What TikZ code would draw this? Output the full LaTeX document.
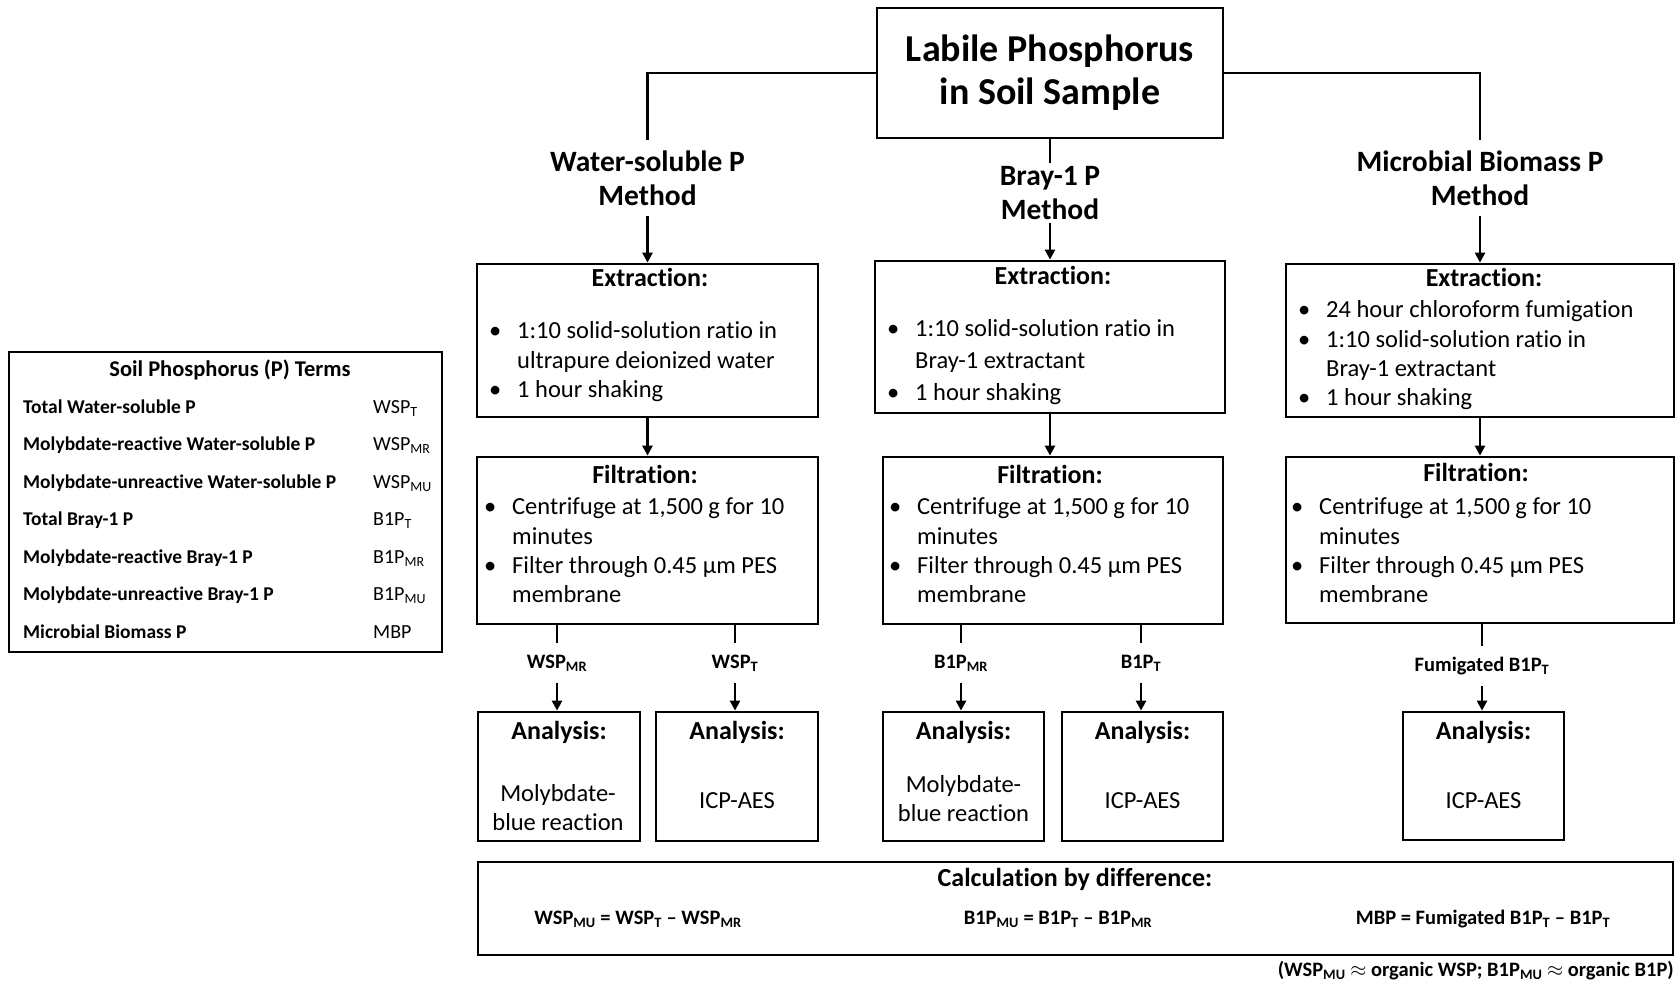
\documentclass[tikz,border=0pt]{standalone}
\usepackage{fontspec}
\setmainfont{Carlito}[Ligatures=NoCommon]
\usepackage{tikz}
\usetikzlibrary{arrows.meta,positioning}

\newcommand{\itm}[1]{\strut\makebox[28pt][l]{\textbullet}#1}
\newcommand{\cnt}[1]{\strut\hspace*{28pt}#1}

\begin{document}
\begin{tikzpicture}[x=1pt, y=-1pt,
  box/.style={draw, line width=2.8pt, inner sep=0pt},
  head/.style={font=\bfseries\fontsize{26}{30}\selectfont, inner sep=0pt, text height=18pt, text depth=5pt},
  body/.style={font=\fontsize{24.5}{29.3}\selectfont, align=left, anchor=north west, inner sep=0pt},
  res/.style={font=\fontsize{24.5}{29}\selectfont, align=center, inner sep=0pt},
  meth/.style={font=\bfseries\fontsize{29.5}{34}\selectfont, align=center, inner sep=0pt},
  flow/.style={font=\bfseries\fontsize{20.5}{24}\selectfont, inner sep=0pt, minimum height=40pt},
  eqn/.style={font=\bfseries\fontsize{20.5}{24}\selectfont, inner sep=0pt, text height=14pt, text depth=4pt},
  term/.style={font=\bfseries\fontsize{19.5}{22}\selectfont, anchor=west, inner sep=0pt, text height=14pt, text depth=4pt},
  abbr/.style={font=\fontsize{20}{22}\selectfont, anchor=west, inner sep=0pt, text height=14pt, text depth=4pt},
  link/.style={line width=2.8pt},
  arr/.style={line width=2.8pt, -{Triangle[length=10pt, width=10pt]}}]
  \useasboundingbox (0,0) rectangle (1679,982);

  % sample and methods
  \node[box, minimum width=346pt, minimum height=130pt, align=center,
        font=\bfseries\fontsize{38}{43}\selectfont] (soil) at (1050,73) {Labile Phosphorus\\in Soil Sample};
  \node[meth, minimum height=76pt] (wsp) at (647.5,178) {Water-soluble P\\Method};
  \node[meth, minimum height=60pt] (bray) at (1050,193) {Bray-1 P\\Method};
  \node[meth, minimum height=76pt] (mbp) at (1480,178) {Microbial Biomass P\\Method};
  \draw[link] (soil.west) -| (wsp.north);
  \draw[link] (soil.east) -| (mbp.north);
  \draw[link] (soil.south) -- (bray.north);

  % extraction
  \node[box, minimum width=341pt, minimum height=153pt] (wspx) at (647.5,340.5) {};
  \node[head] (wspxh) at (650,280) {Extraction:};
  \node[body] (wspxl) at (489,318) {\itm{1:10 solid-solution ratio in}\\\cnt{ultrapure deionized water}\\\itm{1 hour shaking}};
  \node[box, minimum width=350pt, minimum height=152pt] (brayx) at (1050,337) {};
  \node[head] (brayxh) at (1053,278) {Extraction:};
  \node[body, font=\fontsize{24.5}{32}\selectfont] (brayxl) at (887,314) {\itm{1:10 solid-solution ratio in}\\\cnt{Bray-1 extractant}\\\itm{1 hour shaking}};
  \node[box, minimum width=388pt, minimum height=153pt] (mbpx) at (1480,340.5) {};
  \node[head] (mbpxh) at (1484,280) {Extraction:};
  \node[body] (mbpxl) at (1298,297) {\itm{24 hour chloroform fumigation}\\\itm{1:10 solid-solution ratio in}\\\cnt{Bray-1 extractant}\\\itm{1 hour shaking}};
  \draw[arr] (wsp.south) -- (wspx.north);
  \draw[arr] (bray.south) -- (brayx.north);
  \draw[arr] (mbp.south) -- (mbpx.north);

  % filtration
  \node[box, minimum width=341pt, minimum height=167pt] (wspf) at (647.5,540.5) {};
  \node[head] (wspfh) at (645,477) {Filtration:};
  \node[body] (wspfl) at (484,494) {\itm{Centrifuge at 1,500 g for 10}\\\cnt{minutes}\\\itm{Filter through 0.45 µm PES}\\\cnt{membrane}};
  \node[box, minimum width=340pt, minimum height=167pt] (brayf) at (1053,540.5) {};
  \node[head] (brayfh) at (1050,477) {Filtration:};
  \node[body] (brayfl) at (889,494) {\itm{Centrifuge at 1,500 g for 10}\\\cnt{minutes}\\\itm{Filter through 0.45 µm PES}\\\cnt{membrane}};
  \node[box, minimum width=388pt, minimum height=166pt] (mbpf) at (1480,540) {};
  \node[head] (mbpfh) at (1476,475) {Filtration:};
  \node[body] (mbpfl) at (1291,494) {\itm{Centrifuge at 1,500 g for 10}\\\cnt{minutes}\\\itm{Filter through 0.45 µm PES}\\\cnt{membrane}};
  \draw[arr] (wspx) -- (wspf);
  \draw[arr] (brayx.south) -- (brayx.south |- brayf.north);
  \draw[arr] (mbpx) -- (mbpf);

  % fractions
  \node[flow] (wspmr) at (557,663) {WSP\textsubscript{MR}};
  \node[flow] (wspt) at (735,663) {WSP\textsubscript{T}};
  \node[flow] (b1pmr) at (961,663) {B1P\textsubscript{MR}};
  \node[flow] (b1pt) at (1141,663) {B1P\textsubscript{T}};
  \node[flow] (fumt) at (1482,666) {Fumigated B1P\textsubscript{T}};
  \draw[link] (wspf.south -| wspmr) -- (wspmr.north);
  \draw[link] (wspf.south -| wspt) -- (wspt.north);
  \draw[link] (brayf.south -| b1pmr) -- (b1pmr.north);
  \draw[link] (brayf.south -| b1pt) -- (b1pt.north);
  \draw[link] (mbpf.south -| fumt) -- (fumt.north);

  % analysis
  \node[box, minimum width=162pt, minimum height=129pt] (wspa) at (559,776.5) {};
  \node[head] at (559,733) {Analysis:};
  \node[res] (wspar) at (558,807.5) {Molybdate-\\blue reaction};
  \node[box, minimum width=162pt, minimum height=129pt] (wspb) at (737,776.5) {};
  \node[head] at (737,733) {Analysis:};
  \node[res] (wspbr) at (737,801) {ICP-AES};
  \node[box, minimum width=161pt, minimum height=129pt] (braya) at (963.5,776.5) {};
  \node[head] at (963.5,733) {Analysis:};
  \node[res] (brayar) at (963.5,799) {Molybdate-\\blue reaction};
  \node[box, minimum width=161pt, minimum height=129pt] (brayb) at (1142.5,776.5) {};
  \node[head] at (1142.5,733) {Analysis:};
  \node[res] (braybr) at (1142.5,801) {ICP-AES};
  \node[box, minimum width=161pt, minimum height=128pt] (mbpa) at (1483.5,776) {};
  \node[head] at (1483.5,733) {Analysis:};
  \node[res] (mbpar) at (1483.5,801) {ICP-AES};
  \draw[arr] (wspmr.south) -- (wspmr.south |- wspa.north);
  \draw[arr] (wspt.south) -- (wspt.south |- wspb.north);
  \draw[arr] (b1pmr.south) -- (b1pmr.south |- braya.north);
  \draw[arr] (b1pt.south) -- (b1pt.south |- brayb.north);
  \draw[arr] (fumt.south) -- (fumt.south |- mbpa.north);

  % calculation
  \node[box, minimum width=1195pt, minimum height=93pt] (calc) at (1075.5,908.5) {};
  \node[head] (calch) at (1075,880) {Calculation by difference:};
  \node[eqn] (eqw) at (638,919) {WSP\textsubscript{MU} = WSP\textsubscript{T} -- WSP\textsubscript{MR}};
  \node[eqn] (eqb) at (1058,919) {B1P\textsubscript{MU} = B1P\textsubscript{T} -- B1P\textsubscript{MR}};
  \node[eqn] (eqm) at (1483,919) {MBP = Fumigated B1P\textsubscript{T} -- B1P\textsubscript{T}};
  \node[eqn, anchor=east] (note) at (1674,971) {(WSP\textsubscript{MU} $\approx$ organic WSP; B1P\textsubscript{MU} $\approx$ organic B1P)};

  % terms
  \node[box, minimum width=433pt, minimum height=300pt] (terms) at (225.5,502) {};
  \node[font=\bfseries\fontsize{22.5}{26}\selectfont, inner sep=0pt] (termsh) at (230,370) {Soil Phosphorus (P) Terms};
  \foreach \name/\abb [count=\i] in {Total Water-soluble P/WSP\textsubscript{T},
      Molybdate-reactive Water-soluble P/WSP\textsubscript{MR},
      Molybdate-unreactive Water-soluble P/WSP\textsubscript{MU},
      Total Bray-1 P/B1P\textsubscript{T},
      Molybdate-reactive Bray-1 P/B1P\textsubscript{MR},
      Molybdate-unreactive Bray-1 P/B1P\textsubscript{MU},
      Microbial Biomass P/MBP} {
    \node[term] (term\i) at (23,{370.5+37.5*\i}) {\name};
    \node[abbr] (abbr\i) at (373,{370.5+37.5*\i}) {\abb};
  }
\end{tikzpicture}
\end{document}
